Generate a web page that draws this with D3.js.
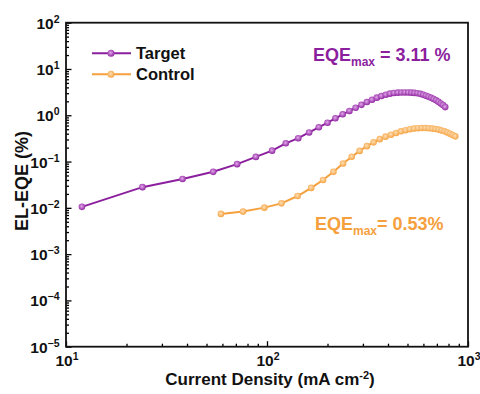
<!DOCTYPE html>
<html>
<head>
<meta charset="utf-8">
<script src="https://cdn.jsdelivr.net/npm/d3@7"></script>
<style>
  html, body { margin: 0; padding: 0; background: #fff; }
  svg { display: block; font-family: "Liberation Sans", Arial, sans-serif; }
</style>
</head>
<body>
<svg id="chart" width="480" height="394"></svg>
<script>
// Current density (mA cm^-2) and EL-EQE (%) for each device
const targetJ = [12, 24, 38, 54, 71, 88, 106, 124, 143, 162, 181, 200, 219, 238, 257, 276, 295, 314, 333, 352,
  371, 390, 409, 428, 447, 466, 485, 504, 523, 542, 561, 580, 599, 618, 637, 656, 675, 694, 713, 732, 751, 770];
const targetEQE = [0.0105, 0.028, 0.042, 0.060, 0.088, 0.126, 0.172, 0.248, 0.32, 0.425, 0.55, 0.69, 0.86, 1.05, 1.24, 1.45,
  1.68, 1.93, 2.17, 2.40, 2.60, 2.78, 2.93, 3.03, 3.08, 3.10, 3.11, 3.10, 3.08, 3.04, 3.00, 2.90, 2.78, 2.65, 2.52,
  2.38, 2.24, 2.10, 1.95, 1.80, 1.66, 1.50];

const controlJ = [59, 76, 97, 118, 142, 166, 190, 214, 239, 264, 289, 314, 339, 364, 389, 414, 439, 464, 489, 514,
  539, 564, 589, 614, 639, 664, 689, 714, 739, 764, 789, 814, 839, 864];
const controlEQE = [0.0074, 0.0083, 0.0101, 0.0125, 0.018, 0.027, 0.040, 0.060, 0.091, 0.127, 0.17, 0.215, 0.26, 0.305,
  0.345, 0.38, 0.415, 0.45, 0.475, 0.50, 0.515, 0.525, 0.53, 0.53, 0.525, 0.515, 0.505, 0.49, 0.47, 0.45, 0.425,
  0.40, 0.375, 0.35];

const xTickExps = [1, 2, 3];
const yTickExps = [2, 1, 0, -1, -2, -3, -4, -5];

const seriesNames = ["Target", "Control"];
const seriesColors = ["#8c1f9e", "#f5a03c"];
const seriesLight = ["#e2aaea", "#fde0b8"];
const maxLabels = [" = 3.11 %", "= 0.53%"];

const svg = d3.select("#chart");
const margin = { left: 66, right: 12, top: 22.7, bottom: 47.3 };
const W = 480, H = 394;
const x = d3.scaleLog().domain([10, 1000]).range([margin.left, W - margin.right]);
const y = d3.scaleLog().domain([1e-5, 100]).range([H - margin.bottom, margin.top]);

// sphere-like marker fills
const defs = svg.append("defs");
seriesColors.forEach((c, i) => {
  const g = defs.append("radialGradient").attr("id", "ball" + i)
    .attr("cx", "45%").attr("cy", "42%").attr("r", "60%");
  g.append("stop").attr("offset", "0%").attr("stop-color", seriesLight[i]);
  g.append("stop").attr("offset", "100%").attr("stop-color", c);
});

// minor + major ticks, pointing inward
function minorVals(lo, hi) {
  const v = [];
  for (let e = lo; e < hi; e++) for (let k = 2; k <= 9; k++) v.push(k * Math.pow(10, e));
  return v;
}
const xMajor = xTickExps.map(e => Math.pow(10, e));
const yMajor = yTickExps.map(e => Math.pow(10, e));

const axX = svg.append("g").attr("transform", `translate(0,${y.range()[0]})`);
axX.call(d3.axisBottom(x).tickValues(minorVals(1, 3)).tickSize(-3).tickFormat(""));
axX.append("g").call(d3.axisBottom(x).tickValues(xMajor).tickSize(-5.5).tickFormat(""));
const axY = svg.append("g").attr("transform", `translate(${margin.left},0)`);
axY.call(d3.axisLeft(y).tickValues(minorVals(-5, 2)).tickSize(-3).tickFormat(""));
axY.append("g").call(d3.axisLeft(y).tickValues(yMajor).tickSize(-5.5).tickFormat(""));
svg.selectAll(".domain").remove();
svg.selectAll(".tick line").attr("stroke", "#000").attr("stroke-width", 1.3);

// frame
svg.append("rect")
  .attr("x", x.range()[0]).attr("y", y.range()[1])
  .attr("width", x.range()[1] - x.range()[0]).attr("height", y.range()[0] - y.range()[1])
  .attr("fill", "none").attr("stroke", "#111").attr("stroke-width", 1.8);

// tick labels with superscript exponents
function powLabel(g, exp, anchor) {
  const t = g.append("text").attr("text-anchor", anchor).attr("font-weight", "bold")
    .attr("font-size", 15.5).attr("fill", "#111");
  t.append("tspan").text("10");
  t.append("tspan").attr("font-size", 10.5).attr("dy", -6).text(String(exp).replace("-", "\u2212"));
  return t;
}
xTickExps.forEach(e => {
  powLabel(svg, e, "middle").attr("x", x(Math.pow(10, e)) + 1).attr("y", 366);
});
yTickExps.forEach(e => {
  powLabel(svg, e, "end").attr("x", 59.5).attr("y", y(Math.pow(10, e)) + 6);
});

// axis titles
const xt = svg.append("text").attr("x", 270).attr("y", 385).attr("text-anchor", "middle")
  .attr("font-weight", "bold").attr("font-size", 17).attr("fill", "#111");
xt.append("tspan").text("Current Density (mA cm");
xt.append("tspan").attr("font-size", 11).attr("dy", -6.5).text("-2");
xt.append("tspan").attr("dy", 6.5).text(")");

svg.append("text").attr("transform", `translate(28,181) rotate(-90)`)
  .attr("text-anchor", "middle").attr("font-weight", "bold").attr("font-size", 18).attr("fill", "#111")
  .text("EL-EQE (%)");

// curves
const series = [
  { J: targetJ, v: targetEQE },
  { J: controlJ, v: controlEQE }
];
const line = d3.line().x(d => x(d[0])).y(d => y(d[1]));
series.forEach((s, i) => {
  const pts = s.J.map((j, k) => [j, s.v[k]]);
  svg.append("path").datum(pts).attr("d", line)
    .attr("fill", "none").attr("stroke", seriesColors[i]).attr("stroke-width", 2);
  svg.append("g").selectAll("circle").data(pts).join("circle")
    .attr("cx", d => x(d[0])).attr("cy", d => y(d[1])).attr("r", 3.3)
    .attr("fill", `url(#ball${i})`);
});

// legend
seriesNames.forEach((name, i) => {
  const ly = 53.3 + i * 21;
  svg.append("line").attr("x1", 92).attr("x2", 131).attr("y1", ly).attr("y2", ly)
    .attr("stroke", seriesColors[i]).attr("stroke-width", 2);
  svg.append("circle").attr("cx", 111).attr("cy", ly).attr("r", 3.5).attr("fill", `url(#ball${i})`);
  svg.append("text").attr("x", 136).attr("y", ly + 6).attr("font-weight", "bold")
    .attr("font-size", 16.5).attr("fill", "#111").text(name);
});

// maximum EQE annotations
const ann = [[313, 60.5], [315, 230]];
ann.forEach((p, i) => {
  const t = svg.append("text").attr("x", p[0]).attr("y", p[1]).attr("font-weight", "bold")
    .attr("font-size", 18).attr("fill", seriesColors[i]);
  t.append("tspan").text("EQE");
  t.append("tspan").attr("font-size", 12).attr("dy", 5).text("max");
  t.append("tspan").attr("dy", -5).text(maxLabels[i]);
});
</script>
</body>
</html>
